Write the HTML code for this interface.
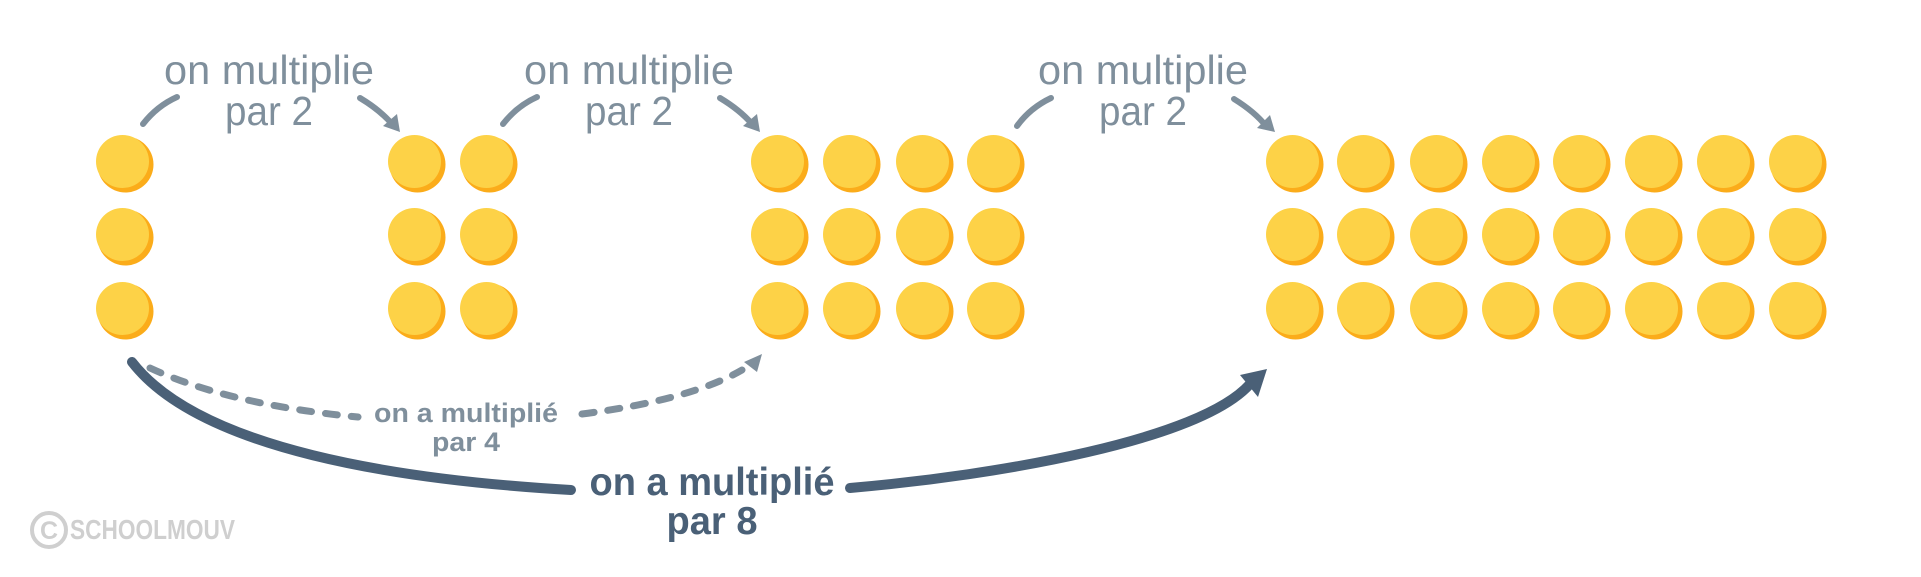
<!DOCTYPE html>
<html><head><meta charset="utf-8"><style>
html,body{margin:0;padding:0;background:#fff;}
svg{display:block;}
text{font-family:"Liberation Sans",sans-serif;}
</style></head><body>
<svg width="1921" height="577" viewBox="0 0 1921 577" xmlns="http://www.w3.org/2000/svg">
<defs>
<g id="c"><circle cx="1.5" cy="1.5" r="28" fill="#fbac1a"/><circle cx="-1.5" cy="-1.5" r="26.5" fill="#fdd247"/></g>
</defs>
<g>
<use href="#c" x="124" y="163"/><use href="#c" x="124" y="236"/><use href="#c" x="124" y="310"/>
<use href="#c" x="416" y="163"/><use href="#c" x="416" y="236"/><use href="#c" x="416" y="310"/>
<use href="#c" x="488" y="163"/><use href="#c" x="488" y="236"/><use href="#c" x="488" y="310"/>
<use href="#c" x="779" y="163"/><use href="#c" x="779" y="236"/><use href="#c" x="779" y="310"/>
<use href="#c" x="851" y="163"/><use href="#c" x="851" y="236"/><use href="#c" x="851" y="310"/>
<use href="#c" x="924" y="163"/><use href="#c" x="924" y="236"/><use href="#c" x="924" y="310"/>
<use href="#c" x="995" y="163"/><use href="#c" x="995" y="236"/><use href="#c" x="995" y="310"/>
<use href="#c" x="1294" y="163"/><use href="#c" x="1294" y="236"/><use href="#c" x="1294" y="310"/>
<use href="#c" x="1365" y="163"/><use href="#c" x="1365" y="236"/><use href="#c" x="1365" y="310"/>
<use href="#c" x="1438" y="163"/><use href="#c" x="1438" y="236"/><use href="#c" x="1438" y="310"/>
<use href="#c" x="1510" y="163"/><use href="#c" x="1510" y="236"/><use href="#c" x="1510" y="310"/>
<use href="#c" x="1581" y="163"/><use href="#c" x="1581" y="236"/><use href="#c" x="1581" y="310"/>
<use href="#c" x="1653" y="163"/><use href="#c" x="1653" y="236"/><use href="#c" x="1653" y="310"/>
<use href="#c" x="1725" y="163"/><use href="#c" x="1725" y="236"/><use href="#c" x="1725" y="310"/>
<use href="#c" x="1797" y="163"/><use href="#c" x="1797" y="236"/><use href="#c" x="1797" y="310"/>
</g>
<g fill="#7f8f9c" font-size="41" text-anchor="middle">
<text x="269" y="84" textLength="210" lengthAdjust="spacingAndGlyphs">on multiplie</text>
<text x="269" y="125" textLength="88" lengthAdjust="spacingAndGlyphs">par 2</text>
<text x="629" y="84" textLength="210" lengthAdjust="spacingAndGlyphs">on multiplie</text>
<text x="629" y="125" textLength="88" lengthAdjust="spacingAndGlyphs">par 2</text>
<text x="1143" y="84" textLength="210" lengthAdjust="spacingAndGlyphs">on multiplie</text>
<text x="1143" y="125" textLength="88" lengthAdjust="spacingAndGlyphs">par 2</text>
</g>
<g stroke="#7f8f9c" stroke-width="6" fill="none" stroke-linecap="round">
<path d="M143 124 Q157 106 177 97"/>
<path d="M360 98 Q380 110 392 124"/>
<path d="M503 124 Q517 106 537 97"/>
<path d="M720 98 Q740 110 752 124"/>
<path d="M1017 126 Q1030 108 1051 98"/>
<path d="M1234 99 Q1255 112 1266 126"/>
</g>
<g fill="#7f8f9c">
<polygon points="400,132 383,126 397,114"/>
<polygon points="760,132 743,126 757,114"/>
<polygon points="1275,132 1257,128 1270,115"/>
</g>
<g stroke="#7f8f9c" stroke-width="7" fill="none" stroke-linecap="round" stroke-dasharray="12 14">
<path d="M150 368 Q230 405 358 417"/>
<path d="M582 414 Q690 400 742 370"/>
</g>
<polygon points="762,354 744,362 757,372" fill="#7f8f9c"/>
<g fill="#7f8f9c" font-size="27" font-weight="bold" text-anchor="middle">
<text x="466" y="422" textLength="184" lengthAdjust="spacingAndGlyphs">on a multiplié</text>
<text x="466" y="451" textLength="68" lengthAdjust="spacingAndGlyphs">par 4</text>
</g>
<g stroke="#4a6077" stroke-width="10" fill="none" stroke-linecap="round">
<path d="M132 362 C200 450 400 480 571 490"/>
<path d="M850 488 C1000 475 1200 440 1250 384"/>
</g>
<polygon points="1267,369 1240,375 1258,397" fill="#4a6077"/>
<g fill="#4a6077" font-size="39" font-weight="bold" text-anchor="middle">
<text x="712" y="495" textLength="245" lengthAdjust="spacingAndGlyphs">on a multiplié</text>
<text x="712" y="534" textLength="91" lengthAdjust="spacingAndGlyphs">par 8</text>
</g>
<circle cx="49" cy="530" r="17" fill="none" stroke="#cfcfcf" stroke-width="4"/>
<text x="49" y="539" font-size="25" font-weight="bold" fill="#cfcfcf" text-anchor="middle">C</text>
<text x="70" y="539" font-size="28" font-weight="bold" fill="#cfcfcf" textLength="165" lengthAdjust="spacingAndGlyphs">SCHOOLMOUV</text>
</svg>
</body></html>
